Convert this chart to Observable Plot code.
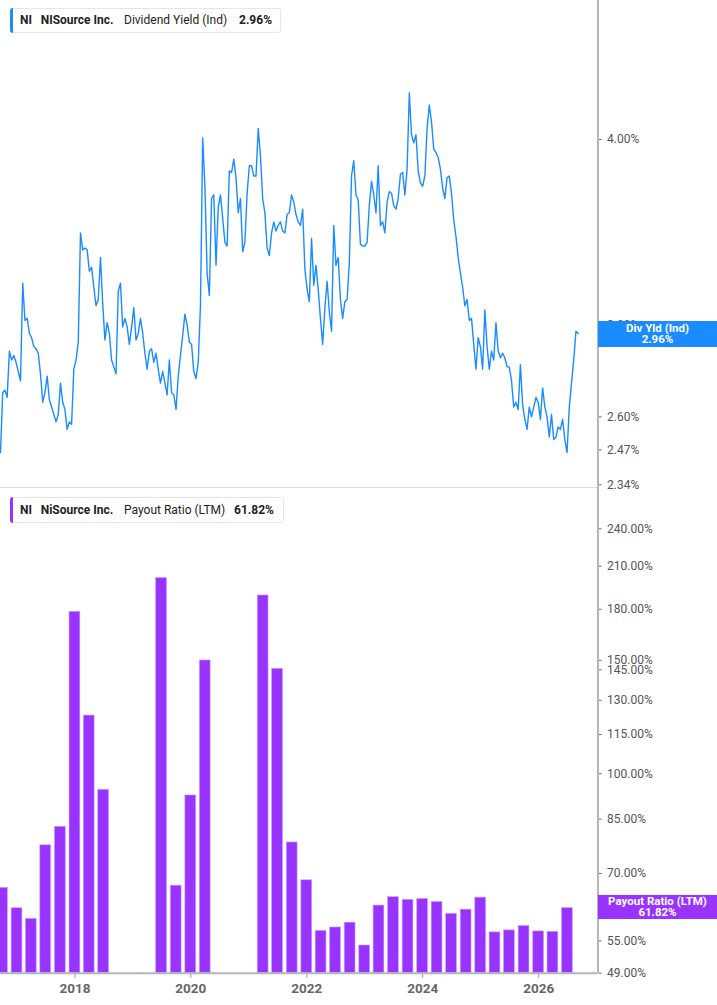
<!DOCTYPE html>
<html>
<head>
<meta charset="utf-8">
<script src="https://cdn.jsdelivr.net/npm/d3@7"></script>
<script src="https://cdn.jsdelivr.net/npm/@observablehq/plot@0.6"></script>
<style>
  html, body { margin: 0; padding: 0; background: #fff; }
  #wrap { position: relative; width: 717px; height: 1005px; overflow: hidden; background: #fff; font-family: Roboto, "Liberation Sans", sans-serif; }
  #wrap svg { position: absolute; left: 0; }
  .legend { position: absolute; left: 10px; background: #fff; border: 1px solid #e6e6e6; border-radius: 3px; box-sizing: border-box; font-size: 12px; color: #222; }
  .legend .bar { position: absolute; left: -1px; top: -1px; bottom: -1px; width: 3px; border-radius: 3px 0 0 3px; }
  .legend span { position: absolute; top: 0; white-space: nowrap; }
  .legend .b { font-weight: bold; }
  .badge { position: absolute; left: 598px; width: 119px; color: #fff; font-weight: bold; font-size: 11.5px; line-height: 10.5px; text-align: center; box-sizing: border-box; display: flex; flex-direction: column; justify-content: center; }
</style>
</head>
<body>
<div id="wrap"></div>
<script>
// ---- Data ----
const yieldStart = "2016-09-19";
const yieldStepDays = 14;
const yieldValues = [
  2.46, 2.70, 2.71, 2.68, 2.88, 2.84, 2.86, 2.83, 2.79, 2.75,
  3.20, 3.02, 3.03, 2.96, 2.94, 2.90, 2.89, 2.87, 2.78, 2.66,
  2.70, 2.77, 2.67, 2.64, 2.61, 2.58, 2.61, 2.74, 2.66, 2.63,
  2.55, 2.58, 2.57, 2.80, 2.84, 2.92, 3.46, 3.37, 3.38, 3.37,
  3.26, 3.28, 3.18, 3.09, 3.12, 3.33, 3.10, 2.93, 3.01, 2.96,
  2.84, 2.81, 2.78, 3.16, 3.20, 2.99, 3.03, 2.99, 2.91, 2.99,
  3.08, 2.93, 2.96, 3.03, 2.96, 2.87, 2.80, 2.88, 2.89, 2.83,
  2.87, 2.80, 2.74, 2.79, 2.74, 2.69, 2.84, 2.70, 2.69, 2.63,
  2.77, 2.86, 2.95, 3.05, 3.00, 2.92, 2.91, 2.79, 2.76, 2.83,
  3.09, 4.01, 3.72, 3.25, 3.14, 3.65, 3.67, 3.29, 3.60, 3.67,
  3.54, 3.41, 3.39, 3.81, 3.80, 3.88, 3.77, 3.57, 3.65, 3.36,
  3.41, 3.68, 3.84, 3.84, 3.78, 3.78, 4.07, 3.90, 3.65, 3.57,
  3.38, 3.34, 3.46, 3.52, 3.47, 3.50, 3.52, 3.47, 3.46, 3.56,
  3.57, 3.67, 3.63, 3.56, 3.52, 3.50, 3.59, 3.27, 3.17, 3.11,
  3.43, 3.19, 3.29, 3.17, 3.03, 2.91, 3.08, 3.21, 3.06, 2.97,
  3.50, 3.29, 3.33, 3.12, 3.03, 3.11, 3.12, 3.30, 3.78, 3.87,
  3.67, 3.64, 3.40, 3.39, 3.39, 3.41, 3.61, 3.75, 3.67, 3.57,
  3.84, 3.50, 3.52, 3.46, 3.63, 3.69, 3.68, 3.61, 3.59, 3.65,
  3.79, 3.80, 3.67, 3.82, 4.30, 4.03, 3.98, 4.03, 3.81, 3.74,
  3.72, 3.78, 4.07, 4.22, 4.11, 3.94, 3.92, 3.89, 3.82, 3.71,
  3.65, 3.77, 3.78, 3.68, 3.53, 3.44, 3.33, 3.25, 3.18, 3.09,
  3.12, 3.02, 3.03, 2.91, 2.80, 2.94, 2.90, 2.80, 3.07, 2.90,
  2.80, 2.88, 2.84, 3.01, 2.88, 2.85, 2.87, 2.85, 2.81, 2.81,
  2.75, 2.64, 2.66, 2.63, 2.82, 2.65, 2.59, 2.55, 2.64, 2.60,
  2.64, 2.68, 2.66, 2.59, 2.72, 2.64, 2.60, 2.52, 2.61, 2.51,
  2.52, 2.56, 2.55, 2.59, 2.51, 2.46, 2.64, 2.74, 2.84, 2.97,
  2.96
];
const payoutDates = [
  "2016-10-01", "2017-01-01", "2017-04-01", "2017-07-01", "2017-10-01",
  "2018-01-01", "2018-04-01", "2018-07-01",
  "2019-07-01", "2019-10-01", "2020-01-01", "2020-04-01",
  "2021-04-01", "2021-07-01", "2021-10-01", "2022-01-01", "2022-04-01",
  "2022-07-01", "2022-10-01", "2023-01-01", "2023-04-01", "2023-07-01",
  "2023-10-01", "2024-01-01", "2024-04-01", "2024-07-01", "2024-10-01",
  "2025-01-01", "2025-04-01", "2025-07-01", "2025-10-01", "2026-01-01",
  "2026-04-01", "2026-07-01"
];
const payoutValues = [
  66.5, 61.8, 59.5, 77.4, 82.7,
  178.4, 123.1, 94.4,
  201.2, 67.0, 92.5, 149.9,
  189.1, 145.5, 78.2, 68.3, 57.0,
  57.7, 58.7, 54.1, 62.4, 64.3,
  63.7, 63.9, 63.2, 60.6, 61.5,
  64.2, 56.7, 57.1, 58.0, 56.9,
  56.8, 61.82
];
const yieldTicks = [2.34, 2.47, 2.60, 3.00, 4.00];
const payoutTicks = [49, 55, 70, 85, 100, 115, 130, 145, 150, 180, 210, 240];
const yearTicks = ["2018-01-01", "2020-01-01", "2022-01-01", "2024-01-01", "2026-01-01"];
const xDomainDates = ["2016-09-19", "2027-01-10"];
const yieldDomain = [2.33, 4.964];
const payoutDomain = [49, 278.2];
const lastYield = 2.96;
const lastPayout = 61.82;

// ---- Build tables ----
const start = d3.utcParse("%Y-%m-%d")(yieldStart);
const yieldData = yieldValues.map((v, i) => ({date: d3.utcDay.offset(start, i * yieldStepDays), value: v}));
const payoutData = payoutDates.map((d, i) => ({date: new Date(d + "T00:00:00Z"), value: payoutValues[i]}));
const xDomain = xDomainDates.map(d => new Date(d + "T00:00:00Z"));
const fmtPct = d => d.toFixed(2) + "%";

const BLUE = "#1a8cff";
const PURPLE = "#9933ff";
const AXIS = "#b5b5b5";

const topChart = Plot.plot({
  width: 717, height: 488,
  marginLeft: 0, marginRight: 119.5, marginTop: 0, marginBottom: 1,
  style: {fontFamily: "Roboto, 'Liberation Sans', sans-serif", background: "transparent", overflow: "visible"},
  x: {type: "utc", domain: xDomain, axis: null},
  y: {type: "log", domain: yieldDomain, axis: null, label: null},
  marks: [
    Plot.ruleY([yieldDomain[0]], {stroke: "#dddddd", strokeWidth: 1}),
    Plot.line(yieldData, {x: "date", y: "value", stroke: BLUE, strokeWidth: 1.4, strokeLinejoin: "round"}),
    Plot.axisY({anchor: "right", ticks: yieldTicks, tickFormat: fmtPct, tickSize: 3, tickPadding: 6, fontSize: 12, fill: "#555", stroke: "#666", label: null}),
    Plot.ruleX([xDomain[1]], {stroke: AXIS, strokeWidth: 2})
  ]
});

const bottomChart = Plot.plot({
  width: 717, height: 518,
  marginLeft: 0, marginRight: 119.5, marginTop: 0, marginBottom: 32.3,
  style: {fontFamily: "Roboto, 'Liberation Sans', sans-serif", background: "transparent", overflow: "visible"},
  x: {type: "utc", domain: xDomain, axis: null},
  y: {type: "log", domain: payoutDomain, axis: null, label: null},
  marks: [
    Plot.rect(payoutData, {
      x1: d => d3.utcDay.offset(d.date, -34),
      x2: d => d3.utcDay.offset(d.date, 34),
      y1: payoutDomain[0], y2: "value",
      fill: PURPLE, stroke: "#c79bff", strokeWidth: 0.6
    }),
    Plot.axisY({anchor: "right", ticks: payoutTicks, tickFormat: fmtPct, tickSize: 3, tickPadding: 6, fontSize: 12, fill: "#555", stroke: "#666", label: null}),
    Plot.axisX({ticks: yearTicks.map(d => new Date(d + "T00:00:00Z")), tickFormat: d3.utcFormat("%Y"), tickSize: 5, tickPadding: 5, fontSize: 13.5, fontWeight: "bold", fill: "#666", stroke: "#999", label: null}),
    Plot.ruleY([payoutDomain[0]], {stroke: AXIS, strokeWidth: 2}),
    Plot.ruleX([xDomain[1]], {stroke: AXIS, strokeWidth: 2})
  ]
});

const wrap = document.getElementById("wrap");
topChart.style.top = "0px";
bottomChart.style.top = "487px";
wrap.appendChild(topChart);
wrap.appendChild(bottomChart);

// ---- Legends ----
function legend(topPx, heightPx, widthPx, color, parts) {
  const box = document.createElement("div");
  box.className = "legend";
  box.style.top = topPx + "px";
  box.style.height = heightPx + "px";
  box.style.width = widthPx + "px";
  const bar = document.createElement("div");
  bar.className = "bar";
  bar.style.background = color;
  box.appendChild(bar);
  for (const [text, left, bold] of parts) {
    const s = document.createElement("span");
    s.textContent = text;
    s.style.left = (left - 11) + "px";
    s.style.lineHeight = (heightPx - 2) + "px";
    if (bold) s.className = "b";
    box.appendChild(s);
  }
  wrap.appendChild(box);
}
legend(8, 25, 271, BLUE, [["NI", 20, true], ["NISource Inc.", 40.7, true], ["Dividend Yield (Ind)", 124, false], ["2.96%", 239, true]]);
legend(497, 26, 274, PURPLE, [["NI", 20, true], ["NiSource Inc.", 40.7, true], ["Payout Ratio (LTM)", 124, false], ["61.82%", 234, true]]);

// ---- Value badges on the right axis ----
function badge(yPx, h, color, line1, line2) {
  const b = document.createElement("div");
  b.className = "badge";
  b.style.top = (yPx - h / 2) + "px";
  b.style.height = h + "px";
  b.style.background = color;
  b.innerHTML = "<div>" + line1 + "</div><div>" + line2 + "</div>";
  wrap.appendChild(b);
}
badge(topChart.scale("y").apply(lastYield) + 1, 26, BLUE, "Div Yld (Ind)", fmtPct(lastYield));
badge(487 + bottomChart.scale("y").apply(lastPayout) - 1, 24, PURPLE, "Payout Ratio (LTM)", fmtPct(lastPayout));
</script>
</body>
</html>
